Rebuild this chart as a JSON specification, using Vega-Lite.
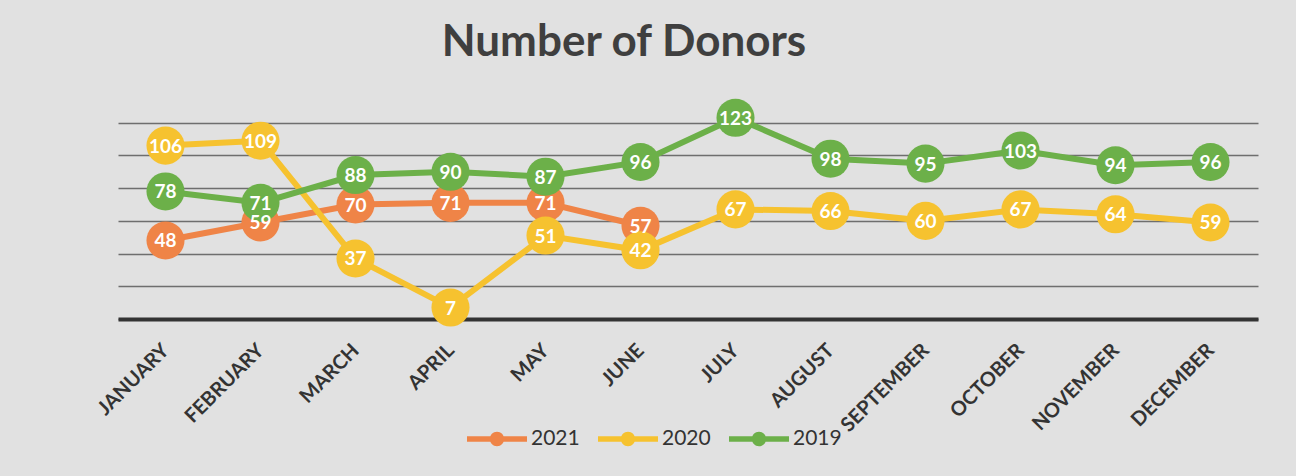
{
  "$schema": "https://vega.github.io/schema/vega-lite/v6.json",
  "width": 1140,
  "height": 229,
  "autosize": {"type": "none"},
  "padding": {"left": 118, "top": 90, "right": 38, "bottom": 157},
  "background": "#e1e1e1",
  "title": {
    "text": "Number of Donors",
    "anchor": "middle",
    "dx": -64,
    "offset": -10,
    "baseline": "alphabetic",
    "font": "Lato",
    "fontWeight": "bold",
    "fontSize": 44,
    "color": "#3f3f3f"
  },
  "config": {
    "view": {"stroke": null},
    "font": "Lato"
  },
  "data": {
    "values": [
      {"month": "JANUARY", "year": "2021", "donors": 48},
      {"month": "FEBRUARY", "year": "2021", "donors": 59},
      {"month": "MARCH", "year": "2021", "donors": 70},
      {"month": "APRIL", "year": "2021", "donors": 71},
      {"month": "MAY", "year": "2021", "donors": 71},
      {"month": "JUNE", "year": "2021", "donors": 57},
      {"month": "JANUARY", "year": "2020", "donors": 106},
      {"month": "FEBRUARY", "year": "2020", "donors": 109},
      {"month": "MARCH", "year": "2020", "donors": 37},
      {"month": "APRIL", "year": "2020", "donors": 7},
      {"month": "MAY", "year": "2020", "donors": 51},
      {"month": "JUNE", "year": "2020", "donors": 42},
      {"month": "JULY", "year": "2020", "donors": 67},
      {"month": "AUGUST", "year": "2020", "donors": 66},
      {"month": "SEPTEMBER", "year": "2020", "donors": 60},
      {"month": "OCTOBER", "year": "2020", "donors": 67},
      {"month": "NOVEMBER", "year": "2020", "donors": 64},
      {"month": "DECEMBER", "year": "2020", "donors": 59},
      {"month": "JANUARY", "year": "2019", "donors": 78},
      {"month": "FEBRUARY", "year": "2019", "donors": 71},
      {"month": "MARCH", "year": "2019", "donors": 88},
      {"month": "APRIL", "year": "2019", "donors": 90},
      {"month": "MAY", "year": "2019", "donors": 87},
      {"month": "JUNE", "year": "2019", "donors": 96},
      {"month": "JULY", "year": "2019", "donors": 123},
      {"month": "AUGUST", "year": "2019", "donors": 98},
      {"month": "SEPTEMBER", "year": "2019", "donors": 95},
      {"month": "OCTOBER", "year": "2019", "donors": 103},
      {"month": "NOVEMBER", "year": "2019", "donors": 94},
      {"month": "DECEMBER", "year": "2019", "donors": 96}
    ]
  },
  "encoding": {
    "x": {
      "field": "month",
      "type": "ordinal",
      "sort": ["JANUARY", "FEBRUARY", "MARCH", "APRIL", "MAY", "JUNE", "JULY", "AUGUST", "SEPTEMBER", "OCTOBER", "NOVEMBER", "DECEMBER"],
      "scale": {"type": "point", "padding": 0.5},
      "axis": {
        "title": null,
        "labelAngle": -45,
        "labelAlign": "right",
        "labelBaseline": "middle",
        "labelPadding": 28,
        "labelFont": "Lato",
        "labelFontWeight": "bold",
        "labelFontSize": 20,
        "labelColor": "#333333",
        "ticks": false,
        "domainColor": "#333333",
        "domainWidth": 4,
        "grid": false,
        "zindex": 0
      }
    },
    "y": {
      "field": "donors",
      "type": "quantitative",
      "scale": {"domain": [0, 140], "nice": false},
      "axis": {
        "title": null,
        "labels": false,
        "ticks": false,
        "domain": false,
        "values": [0, 20, 40, 60, 80, 100, 120],
        "grid": true,
        "gridColor": "#6e6e6e",
        "gridWidth": 1.5
      }
    }
  },
  "layer": [
    {
      "mark": {"type": "line", "strokeWidth": 6},
      "encoding": {
        "color": {
          "field": "year",
          "type": "nominal",
          "scale": {"domain": ["2021", "2020", "2019"], "range": ["#EF8447", "#F6C22F", "#6CB049"]},
          "legend": {
            "title": null,
            "orient": "none",
            "direction": "horizontal",
            "legendX": 349,
            "legendY": 319,
            "symbolType": "M-1,-0.09L1,-0.09L1,0.09L-1,0.09Z M-0.24,0A0.24,0.24 0 1,1 0.24,0A0.24,0.24 0 1,1 -0.24,0Z",
            "symbolSize": 3600,
            "symbolOpacity": 1,
            "symbolStrokeWidth": 0,
            "labelFont": "Lato",
            "labelFontSize": 21,
            "labelColor": "#333333",
            "labelOffset": 4,
            "columnPadding": 18
          }
        },
        "detail": {"field": "year"}
      }
    },
    {
      "mark": {"type": "point", "filled": true, "opacity": 1, "size": 1450, "shape": "circle"},
      "encoding": {
        "color": {
          "field": "year",
          "type": "nominal",
          "scale": {"domain": ["2021", "2020", "2019"], "range": ["#EF8447", "#F6C22F", "#6CB049"]},
          "legend": {
            "title": null,
            "orient": "none",
            "direction": "horizontal",
            "legendX": 349,
            "legendY": 319,
            "symbolType": "M-1,-0.09L1,-0.09L1,0.09L-1,0.09Z M-0.24,0A0.24,0.24 0 1,1 0.24,0A0.24,0.24 0 1,1 -0.24,0Z",
            "symbolSize": 3600,
            "symbolOpacity": 1,
            "symbolStrokeWidth": 0,
            "labelFont": "Lato",
            "labelFontSize": 21,
            "labelColor": "#333333",
            "labelOffset": 4,
            "columnPadding": 18
          }
        }
      }
    },
    {
      "mark": {"type": "text", "color": "white", "font": "Lato", "fontWeight": "bold", "fontSize": 19, "baseline": "middle", "dy": 1},
      "encoding": {
        "text": {"field": "donors", "type": "quantitative"}
      }
    }
  ]
}
